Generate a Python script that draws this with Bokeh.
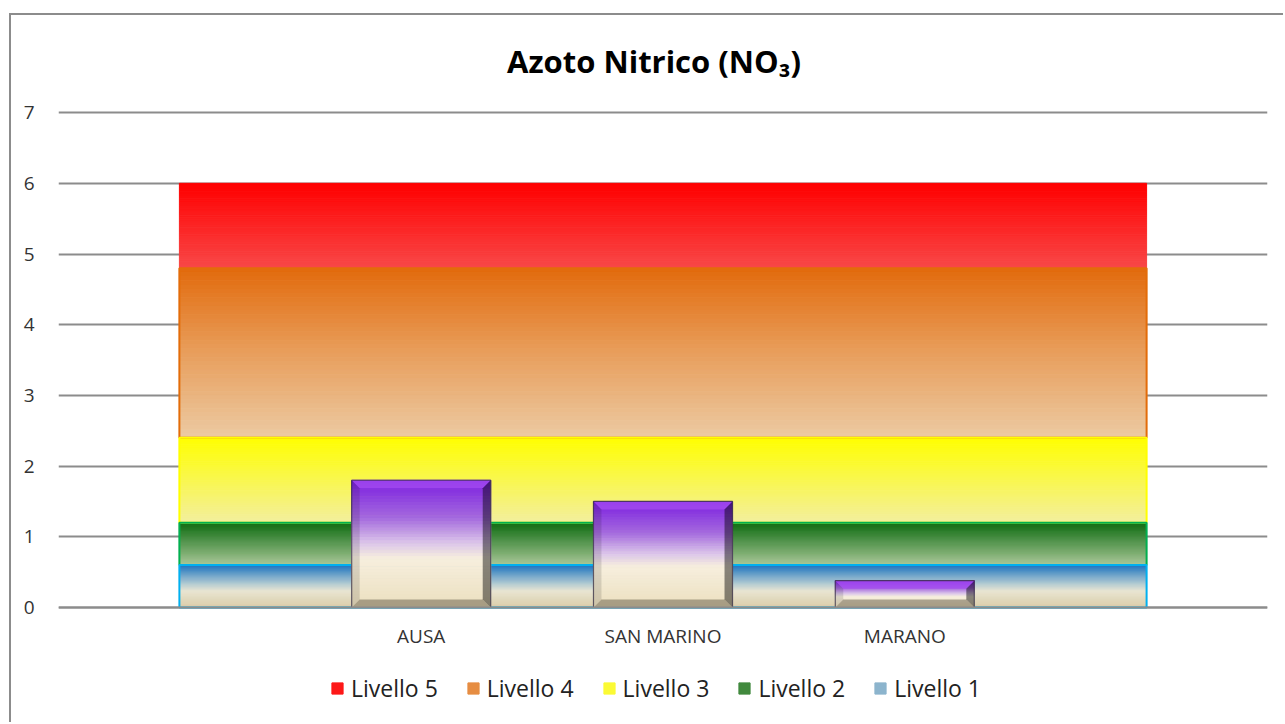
import numpy as np
from bokeh.plotting import figure
from bokeh.models import (ColumnDataSource, Range1d, FixedTicker, Legend,
                          LegendItem, Span)
from bokeh.core.properties import value
from bokeh.embed import file_html
from bokeh.resources import INLINE

# ---------------- data ----------------
chart_title = "Azoto Nitrico (NO\u2083)"
categories = ["", "AUSA", "SAN MARINO", "MARANO", ""]
no3_values = [None, 1.8, 1.5, 0.38, None]
level_names = ["Livello 1", "Livello 2", "Livello 3", "Livello 4", "Livello 5"]
level_thickness = [0.6, 0.6, 1.2, 2.4, 1.2]
y_ticks = [0, 1, 2, 3, 4, 5, 6, 7]

# ---------------- styles ----------------
band_stops = {
    "Livello 5": [(0, "#ff0000"), (1, "#f84848")],
    "Livello 4": [(0, "#e26a0c"), (0.5, "#e89e5c"), (1, "#eccaa2")],
    "Livello 3": [(0, "#ffff00"), (1, "#f3ef9e")],
    "Livello 2": [(0, "#0c6a10"), (1, "#a8c696")],
    "Livello 1": [(0, "#1a72be"), (0.45, "#b2cad2"), (0.62, "#e8e5d2"), (1, "#dbcdaa")],
}
band_line = {"Livello 1": "#00b0f0", "Livello 2": "#00b050",
             "Livello 3": "#ffff00", "Livello 4": "#e36c09", "Livello 5": None}
bar_stops = [(0, "#7a1ee0"), (0.3, "#a56ade"), (0.5, "#dcc6ea"),
             (0.62, "#f7efdd"), (1, "#ebdfbf")]
FONT = "Open Sans"


def hex2rgb(h):
    h = h.lstrip("#")
    return np.array([int(h[i:i + 2], 16) for i in (0, 2, 4)], dtype=float)


def gradient(stops, n):
    ts = [s[0] for s in stops]
    cs = np.array([hex2rgb(s[1]) for s in stops])
    out = []
    for k in range(n):
        t = (k + 0.5) / n
        rgb = [np.interp(t, ts, cs[:, j]) for j in range(3)]
        out.append("#%02x%02x%02x" % tuple(int(round(v)) for v in rgb))
    return out


W, H = 1274, 709
PX_PER_UNIT = 70.7
Y_AXIS_TOP = 7.02
# the frame is extended above and below the value axis to hold title, labels and legend
Y_TOP = Y_AXIS_TOP + 95.7 / PX_PER_UNIT
Y_BOTTOM = -(716 - 607) / PX_PER_UNIT

p = figure(width=W, height=H, output_backend="svg", toolbar_location=None,
           x_range=Range1d(0.5, len(categories) + 0.5),
           y_range=Range1d(Y_BOTTOM, Y_TOP),
           min_border_left=47, min_border_right=18,
           min_border_top=0, min_border_bottom=8)
p.styles = {"border-left": "2px solid #8c8c8c",
            "border-top": "2px solid #8c8c8c",
            "margin-left": "9px",
            "margin-top": "13px"}
p.outline_line_color = None
p.background_fill_color = "white"
p.border_fill_color = "white"

# y axis
p.yaxis.ticker = FixedTicker(ticks=y_ticks)
p.yaxis.axis_line_color = None
p.yaxis.major_tick_line_color = None
p.yaxis.minor_tick_line_color = None
p.yaxis.major_label_standoff = 18
p.yaxis.major_label_text_font = FONT
p.yaxis.major_label_text_font_size = "19px"
p.yaxis.major_label_text_color = "#333333"

p.xaxis.visible = False
p.xgrid.grid_line_color = None
p.ygrid.grid_line_color = "#8c8c8c"
p.ygrid.grid_line_width = 2
p.ygrid.ticker = FixedTicker(ticks=y_ticks)

xs_cat = list(range(1, len(categories) + 1))

# ---------------- title ----------------
x_mid = (p.x_range.start + p.x_range.end) / 2
p.text(x=[x_mid], y=[Y_AXIS_TOP], text=[chart_title], x_offset=-9, y_offset=-50,
       text_align="center", text_baseline="alphabetic",
       text_font=value(FONT), text_font_style="bold", text_font_size="31px",
       text_color="#000000")

# ---------------- bands (stacked area from first to last category) ----------------
x_left, x_right = xs_cat[0], xs_cat[-1]
NS = 40
legend_items = {}
bounds = {}
bottom = 0.0
for name, thick in zip(level_names, level_thickness):
    top = bottom + thick
    bounds[name] = (bottom, top)
    edges = np.linspace(top, bottom, NS + 1)
    src = ColumnDataSource(dict(
        left=[x_left] * NS, right=[x_right] * NS,
        top=edges[:-1], bottom=edges[1:],
        color=gradient(band_stops[name], NS)))
    r = p.quad(left="left", right="right", top="top", bottom="bottom",
               fill_color="color", line_color="color", line_width=1, source=src)
    legend_items[name] = [r]
    bottom = top

for name in reversed(level_names):
    if band_line[name]:
        b0, b1 = bounds[name]
        ol = p.patch([x_left, x_right, x_right, x_left], [b0, b0, b1, b1],
                     fill_color=None, line_color=band_line[name], line_width=2)
        legend_items[name].append(ol)

# axis base line at 0
p.add_layout(Span(location=y_ticks[0], dimension="width",
                  line_color="#8c8c8c", line_width=2))

# ---------------- bars ----------------
bar_w = 0.575
px_x = 1.0 / 242.0
px_y = 1.0 / PX_PER_UNIT
bev_x, bev_y = 8 * px_x, 8 * px_y
NB = 40
for x, v in zip(xs_cat, no3_values):
    if v is None:
        continue
    x0, x1 = x - bar_w / 2, x + bar_w / 2
    edges = np.linspace(v, 0, NB + 1)
    cols = gradient(bar_stops, NB)
    p.quad(left=[x0] * NB, right=[x1] * NB, top=edges[:-1], bottom=edges[1:],
           fill_color=cols, line_color=cols, line_width=1)
    by = min(bev_y, v / 3.0)
    p.patch([x0, x1, x1 - bev_x, x0 + bev_x], [v, v, v - by, v - by],
            fill_color="#a64cf2", fill_alpha=0.75, line_color=None)
    p.patch([x0, x0, x0 + bev_x, x0 + bev_x], [0, v, v - by, by],
            fill_color="#000000", fill_alpha=0.12, line_color=None)
    p.patch([x1, x1, x1 - bev_x, x1 - bev_x], [0, v, v - by, by],
            fill_color="#000000", fill_alpha=0.45, line_color=None)
    p.patch([x0, x1, x1 - bev_x, x0 + bev_x], [0, 0, by, by],
            fill_color="#4a4030", fill_alpha=0.42, line_color=None)
    p.patch([x0, x1, x1, x0], [0, 0, v, v], fill_color=None,
            line_color="#3c3448", line_alpha=0.8, line_width=1.2)

# ---------------- category labels ----------------
lab_x = [x for x, c in zip(xs_cat, categories) if c]
lab_t = [c for c in categories if c]
p.text(x=lab_x, y=[y_ticks[0]] * len(lab_x), text=lab_t, y_offset=28,
       text_align="center", text_baseline="middle",
       text_font=value(FONT), text_font_size="19px", text_color="#333333")

# ---------------- legend ----------------
items = []
for name in reversed(level_names):
    items.append(LegendItem(label=name, renderers=legend_items[name], index=NS // 3))
legend = Legend(items=items, orientation="horizontal", location=(272, 12),
                label_text_font=FONT, label_text_font_size="23px",
                label_text_color="#222222", glyph_width=14, glyph_height=14,
                label_standoff=7, spacing=28, padding=0, margin=0,
                border_line_color=None, background_fill_alpha=0)
p.add_layout(legend, "center")

open("out.html", "w").write(file_html(p, INLINE))
